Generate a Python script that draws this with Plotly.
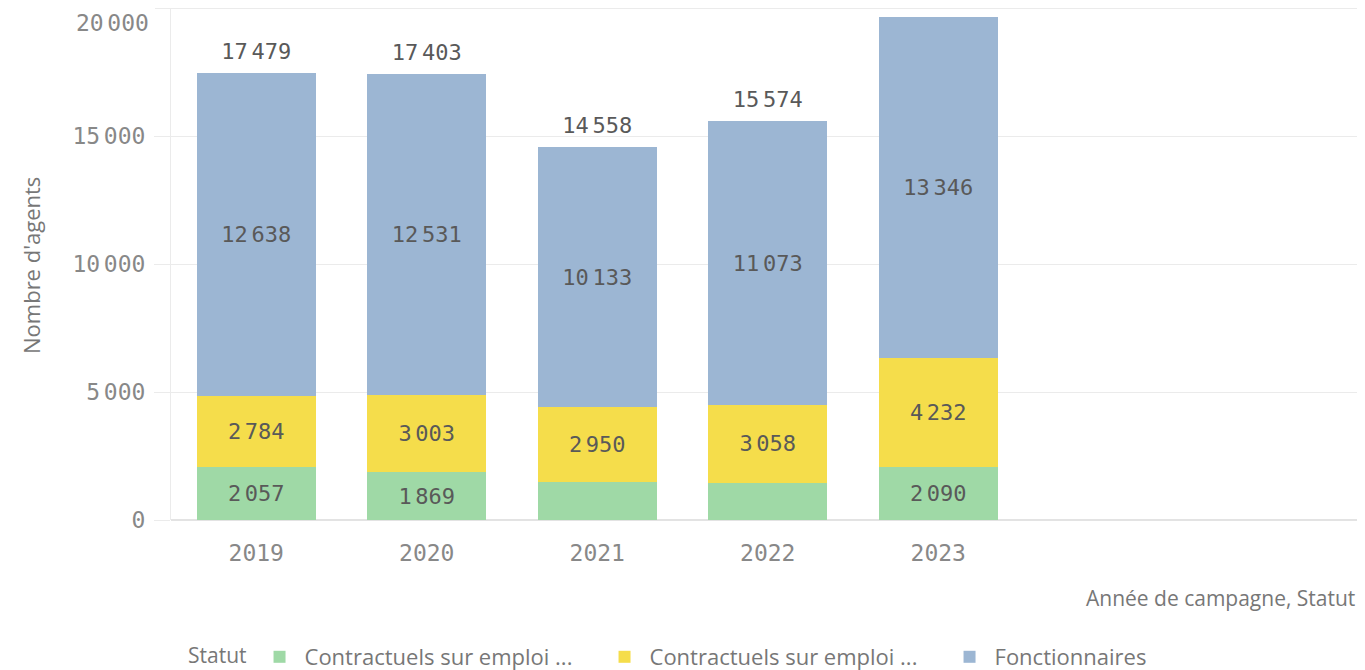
import plotly.graph_objects as go

years = ["2019", "2020", "2021", "2022", "2023"]
series_names = ["Contractuels sur emploi ...", "Contractuels sur emploi ...", "Fonctionnaires"]
contractuels_a = [2057, 1869, 1475, 1443, 2090]
contractuels_b = [2784, 3003, 2950, 3058, 4232]
fonctionnaires = [12638, 12531, 10133, 11073, 13346]
y_tickvals = [0, 5000, 10000, 15000, 20000]
colors = ["#9FD9A6", "#F5DD4B", "#9CB6D3"]

SPACE = '<span style="font-size:6px"> </span>'


def fmt(v):
    return f"{v:,}".replace(",", SPACE)


MIN_LABEL = 1800
Y_MAX = 20000
NUM_FONT = "DejaVu Sans Mono"
TXT_FONT = "Open Sans"

# page body has an 8px margin: figure is offset by 8px right and down
W, H = 1349, 664
L = 163
PLOT_TOP, PLOT_BOTTOM = 0, 512
SLOT = 170.5
plot_w = W - L
x_range = [-0.5, -0.5 + plot_w / SLOT]

fig = go.Figure()
for name, vals, col in zip(series_names, [contractuels_a, contractuels_b, fonctionnaires], colors):
    fig.add_trace(go.Bar(
        x=years, y=vals, name=name,
        marker=dict(color=col, line=dict(width=0)),
        width=0.7,
        text=[fmt(v) if v >= MIN_LABEL else "" for v in vals],
        textposition="inside", insidetextanchor="middle",
        textfont=dict(family=NUM_FONT, size=22, color="#595959"),
        textangle=0,
        hoverinfo="skip",
    ))

totals = [a + b + c for a, b, c in zip(contractuels_a, contractuels_b, fonctionnaires)]
tot_x = [y for y, t in zip(years, totals) if t < Y_MAX * 0.95]
tot_y = [t for t in totals if t < Y_MAX * 0.95]
fig.add_trace(go.Scatter(
    x=tot_x, y=tot_y, mode="markers+text",
    marker=dict(size=12, opacity=0),
    text=[fmt(t) for t in tot_y], textposition="top center",
    textfont=dict(family=NUM_FONT, size=22, color="#595959"),
    showlegend=False, hoverinfo="skip", cliponaxis=False,
))

plot_h = PLOT_BOTTOM - PLOT_TOP
fig.update_layout(
    barmode="stack",
    width=W, height=H,
    margin=dict(l=L, r=0, t=PLOT_TOP, b=H - PLOT_BOTTOM),
    plot_bgcolor="white", paper_bgcolor="white",
    showlegend=True,
    legend=dict(
        orientation="h", xref="container", yref="container",
        x=178 / W, y=(H - 649) / H, xanchor="left", yanchor="middle",
        title=dict(text="Statut", font=dict(family=TXT_FONT, size=21, color="#777777")),
        font=dict(family=TXT_FONT, size=22, color="#777777"),
        itemwidth=40,
        entrywidth=290, entrywidthmode="pixels",
        traceorder="normal",
    ),
    xaxis=dict(
        type="category", range=x_range,
        showgrid=False, showline=False, zeroline=False,
        ticks="", tickfont=dict(family=NUM_FONT, size=23, color="#888888"),
        ticklabelstandoff=17,
    ),
    yaxis=dict(
        range=[0, Y_MAX], tickvals=y_tickvals[:-1], ticktext=[fmt(v) for v in y_tickvals[:-1]],
        showgrid=True, gridcolor="#EBEBEB", gridwidth=1,
        zeroline=True, zerolinecolor="#E3E3E3",
        showline=True, linecolor="#EBEBEB", mirror=False,
        ticks="outside", ticklen=16, tickcolor="#EBEBEB",
        tickfont=dict(family=NUM_FONT, size=23, color="#888888"),
        ticklabelstandoff=4,
    ),
    shapes=[dict(type="line", xref="paper", yref="y", x0=-16 / plot_w, x1=1, y0=Y_MAX, y1=Y_MAX,
                 line=dict(color="#EBEBEB", width=2))],
    annotations=[
        dict(text=fmt(y_tickvals[-1]), xref="paper", yref="y",
             x=-20 / plot_w, y=Y_MAX, xanchor="right", yanchor="top", showarrow=False,
             font=dict(family=NUM_FONT, size=23, color="#888888")),
        dict(text="Année de campagne, Statut", xref="paper", yref="paper",
             x=1, y=(PLOT_BOTTOM - 590) / plot_h, xanchor="right", yanchor="middle",
             showarrow=False,
             font=dict(family=TXT_FONT, size=21, color="#777777")),
        dict(text="Nombre d'agents", xref="paper", yref="paper",
             x=(23 - L) / plot_w, y=(PLOT_BOTTOM - 258) / plot_h, xanchor="center", yanchor="middle",
             showarrow=False, textangle=-90,
             font=dict(family=TXT_FONT, size=22, color="#777777")),
    ],
)

fig.write_html("out.html")
